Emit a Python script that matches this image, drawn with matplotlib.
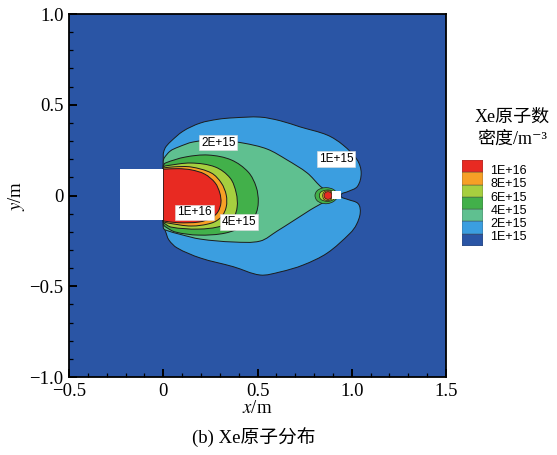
import numpy as np
import matplotlib.pyplot as plt
from matplotlib.patches import Rectangle, PathPatch
from matplotlib.path import Path
from matplotlib.ticker import MultipleLocator

plt.rcParams['font.family'] = ['Liberation Serif', 'Noto Sans CJK SC', 'DejaVu Sans']
plt.rcParams['mathtext.fontset'] = 'stix'

# contour levels of Xe number density (m^-3)
levels = [1e15, 2e15, 4e15, 6e15, 8e15, 1e16]
level_text = ['1E+15', '2E+15', '4E+15', '6E+15', '8E+15', '1E+16']
# fill colours, from below 1E+15 up to above 1E+16
colors = ['#2a55a5', '#3b9ee0', '#5fc090', '#42b04a', '#a6cf3f', '#f6a026', '#e82a22']

# plume outlines (x, y in m): boundary of the region with n >= level
plume_1e15 = np.array([
    [0.000, -0.170], [0.000, 0.230], [0.010, 0.262], [0.037, 0.295], [0.106, 0.355],
    [0.196, 0.399], [0.290, 0.420], [0.371, 0.428], [0.514, 0.432], [0.620, 0.412],
    [0.726, 0.378], [0.870, 0.333], [0.954, 0.278], [1.029, 0.196], [1.050, 0.124],
    [1.030, 0.050], [0.980, 0.022], [0.945, 0.008], [0.945, -0.008], [0.980, -0.022],
    [1.034, -0.045], [1.045, -0.096], [1.025, -0.160], [0.992, -0.207], [0.870, -0.317],
    [0.742, -0.383], [0.620, -0.421], [0.514, -0.438], [0.371, -0.392], [0.196, -0.344],
    [0.074, -0.289], [0.030, -0.245], [0.011, -0.195]])
plume_2e15 = np.array([
    [0.000, -0.180], [0.000, 0.190], [0.005, 0.207], [0.037, 0.245], [0.080, 0.267],
    [0.159, 0.295], [0.286, 0.306], [0.424, 0.289], [0.551, 0.256], [0.657, 0.196],
    [0.764, 0.124], [0.832, 0.052], [0.870, 0.019], [0.870, -0.019], [0.779, -0.080],
    [0.689, -0.140], [0.604, -0.196], [0.514, -0.251], [0.371, -0.256], [0.196, -0.240],
    [0.090, -0.214], [0.011, -0.190]])
plume_4e15 = np.array([
    [0.000, -0.160], [0.000, 0.165], [0.011, 0.179], [0.117, 0.212], [0.239, 0.223],
    [0.361, 0.196], [0.451, 0.129], [0.493, 0.047], [0.504, -0.036], [0.488, -0.107],
    [0.435, -0.163], [0.329, -0.207], [0.186, -0.218], [0.064, -0.201], [0.011, -0.172]])
plume_6e15 = np.array([
    [0.000, -0.150], [0.000, 0.158], [0.011, 0.163], [0.148, 0.179], [0.276, 0.157],
    [0.355, 0.096], [0.387, 0.014], [0.392, -0.063], [0.371, -0.124], [0.308, -0.168],
    [0.186, -0.185], [0.042, -0.174]])
plume_8e15 = np.array([
    [0.000, -0.145], [0.000, 0.152], [0.060, 0.158], [0.148, 0.157], [0.255, 0.124],
    [0.308, 0.069], [0.334, 0.003], [0.334, -0.063], [0.308, -0.118], [0.255, -0.152],
    [0.148, -0.168], [0.027, -0.152]])
plume_1e16 = np.array([
    [0.000, -0.140], [0.000, 0.145], [0.080, 0.148], [0.150, 0.141], [0.220, 0.118],
    [0.275, 0.070], [0.300, 0.014], [0.306, -0.040], [0.290, -0.090], [0.255, -0.124],
    [0.190, -0.146], [0.080, -0.150]])

# neutraliser (cathode) spot
cathode_4e15 = np.array([
    [0.805, 0.000], [0.815, 0.025], [0.840, 0.040], [0.870, 0.043], [0.900, 0.035],
    [0.920, 0.015], [0.920, -0.015], [0.900, -0.035], [0.870, -0.045], [0.840, -0.042],
    [0.815, -0.027]])
cathode_6e15 = np.array([
    [0.828, 0.000], [0.835, 0.018], [0.855, 0.028], [0.880, 0.030], [0.905, 0.020],
    [0.910, 0.000], [0.905, -0.020], [0.880, -0.032], [0.855, -0.030], [0.835, -0.020]])
cathode_8e15 = np.array([
    [0.846, 0.000], [0.852, 0.018], [0.870, 0.026], [0.890, 0.022], [0.900, 0.000],
    [0.890, -0.022], [0.870, -0.028], [0.852, -0.020]])
cathode_1e16 = np.array([
    [0.853, 0.000], [0.859, 0.015], [0.874, 0.021], [0.889, 0.015], [0.895, 0.000],
    [0.889, -0.015], [0.874, -0.021], [0.859, -0.015]])

# thruster body and cathode body (blanked)
thruster_x = [-0.228, 0.0]
thruster_y = [-0.135, 0.146]
cathode_x = [0.896, 0.944]
cathode_y = [-0.020, 0.025]

# contour labels
label_text = ['2E+15', '1E+16', '4E+15', '1E+15']
label_x = [0.292, 0.166, 0.403, 0.917]
label_y = [0.291, -0.093, -0.146, 0.201]


def smooth_outline(pts):
    # closed bezier path through the outline points; points on the exit plane x=0 stay corners
    n = len(pts)
    tang = []
    for i in range(n):
        if pts[i, 0] == 0.0:
            tang.append(None)
        else:
            d = pts[(i + 1) % n] - pts[i - 1]
            tang.append(d / np.hypot(*d))
    verts = [pts[0]]
    codes = [Path.MOVETO]
    for i in range(n):
        j = (i + 1) % n
        p, q = pts[i], pts[j]
        seg = np.hypot(*(q - p)) / 3
        c1 = p + tang[i] * seg if tang[i] is not None else p + (q - p) / 3
        c2 = q - tang[j] * seg if tang[j] is not None else q - (q - p) / 3
        verts += [c1, c2, q]
        codes += [Path.CURVE4] * 3
    return Path(verts, codes)


fig = plt.figure(figsize=(5.57, 4.55), dpi=100)
ax = fig.add_axes([0.1239, 0.1714, 0.6768, 0.7978])
ax.set_facecolor(colors[0])

plume = [plume_1e15, plume_2e15, plume_4e15, plume_6e15, plume_8e15, plume_1e16]
for outline, c in zip(plume, colors[1:]):
    ax.add_patch(PathPatch(smooth_outline(outline), facecolor=c, edgecolor='#1c1c1c', lw=0.7))

cathode = [cathode_4e15, cathode_6e15, cathode_8e15, cathode_1e16]
for outline, c in zip(cathode, colors[3:]):
    ax.add_patch(PathPatch(smooth_outline(outline), facecolor=c, edgecolor='#1c1c1c', lw=0.5))

for bx, by in [(thruster_x, thruster_y), (cathode_x, cathode_y)]:
    ax.add_patch(Rectangle((bx[0], by[0]), bx[1] - bx[0], by[1] - by[0],
                           facecolor='white', edgecolor='none', zorder=3))

for s, x, y in zip(label_text, label_x, label_y):
    ax.text(x, y, s, fontsize=8.5, family='Liberation Sans', ha='center', va='center',
            zorder=4, bbox=dict(boxstyle='square,pad=0.15', fc='white', ec='#dddddd', lw=0.4))

ax.set_xlim(-0.5, 1.5)
ax.set_ylim(-1.0, 1.0)
ax.set_xticks([-0.5, 0, 0.5, 1.0, 1.5])
ax.set_xticklabels(['\u22120.5', '0', '0.5', '1.0', '1.5'])
ax.set_yticks([-1.0, -0.5, 0, 0.5, 1.0])
ax.set_yticklabels(['\u22121.0', '\u22120.5', '0', '0.5', '1.0'])
ax.xaxis.set_minor_locator(MultipleLocator(0.1))
ax.yaxis.set_minor_locator(MultipleLocator(0.1))
ax.tick_params(which='both', direction='in', top=False, right=False, labelsize=13.5, pad=4)
ax.tick_params(which='major', length=6, width=1.4)
ax.tick_params(which='minor', length=3, width=0.9)
for sp in ax.spines.values():
    sp.set_linewidth(1.3)
ax.set_xlabel('$x$/m', fontsize=13.5, labelpad=0)
ax.set_ylabel('$y$/m', fontsize=13.5, labelpad=2)

# legend strip
fig.text(512 / 557, 1 - 117 / 455, 'Xe原子数', ha='center', va='center', fontsize=13)
fig.text(512 / 557, 1 - 139 / 455, '密度/m\u207b\u00b3', ha='center', va='center', fontsize=13)
lax = fig.add_axes([462 / 557, 1 - 246 / 455, 21 / 557, 86 / 455])
for i, c in enumerate(colors):
    lax.bar(0, 1, bottom=i, width=1, color=c, edgecolor='#444444', lw=0.3)
lax.set_xlim(-0.5, 0.5)
lax.set_ylim(0, len(colors))
lax.axis('off')
for s, yy in zip(level_text, np.linspace(0.7, 6.1, len(level_text))):
    lax.text(0.85, yy, s, fontsize=9, family='Liberation Sans', ha='left', va='center')

fig.text(0.455, 0.04, '(b) Xe原子分布', ha='center', va='center', fontsize=13.5)

fig.savefig('out.png', dpi=100)
